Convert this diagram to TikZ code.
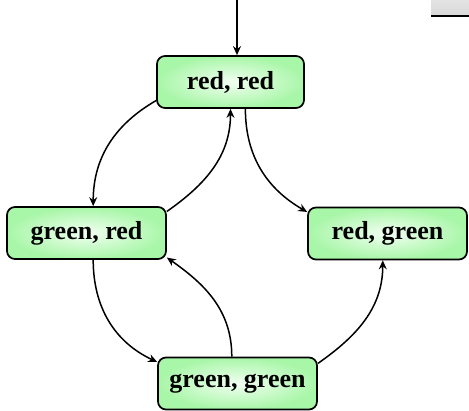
\documentclass[tikz,border=0pt]{standalone}
\usepackage{fontspec}
\setmainfont{Liberation Serif}
\usetikzlibrary{arrows.meta}
\definecolor{outergreen}{RGB}{168,246,168}
\definecolor{innergreen}{RGB}{242,255,242}
\tikzset{
  statebox/.style={draw=black, line width=1.7pt, rounded corners=8pt,
    inner color=innergreen, outer color=outergreen,
    minimum height=52pt, font=\fontsize{26}{30}\selectfont\bfseries},
  trans/.style={line width=1.5pt, -{Stealth[length=9pt,width=8pt,inset=3pt]}},
}
\begin{document}
\begin{tikzpicture}[x=1pt,y=-1pt]
\useasboundingbox (0,0) rectangle (469,411);
% top-right gray patch
\fill[top color=gray!22, bottom color=gray!30] (431,0) rectangle (469,16);
\draw[line width=2pt] (431,16.5) -- (469,16.5);

\node[statebox, minimum width=147pt] (rr) at (230.5,82) {red, red};
\node[statebox, minimum width=159pt] (gr) at (86.5,233) {green, red};
\node[statebox, minimum width=159pt] (rg) at (387.5,233.5) {red, green};
\node[statebox, minimum width=159pt] (gg) at (237.5,383.5) {green, green};

\coordinate (start) at (237,0);
\draw[trans] (start) -- (start |- rr.north);

\draw[trans] (rr.194) to[out=-150,in=90] (gr.76);
\draw[trans] (gr.15) to[out=35,in=-90] (rr.south);
\draw[trans] (rr.-61) to[out=-90,in=150] (rg.165);
\draw[trans] (gr.-76) to[out=-90,in=155] (gg.165);
\draw[trans] (gg.102) to[out=90,in=-35] (gr.-17);
\draw[trans] (gg.14) to[out=35,in=-90] (rg.-100);
\end{tikzpicture}
\end{document}
